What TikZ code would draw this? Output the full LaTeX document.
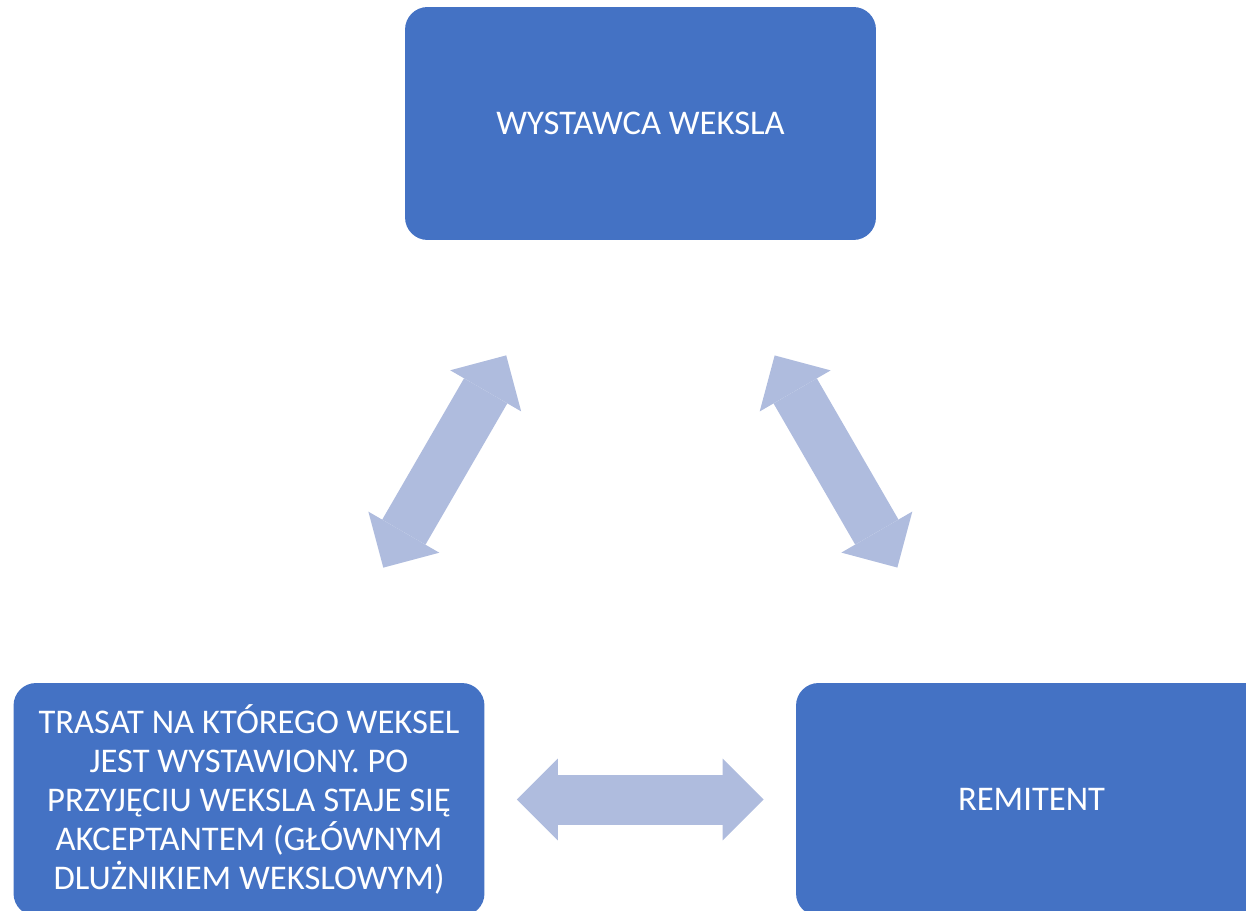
\documentclass[tikz,border=0pt]{standalone}
\usepackage{fontspec}
\setmainfont{Carlito}
\usetikzlibrary{arrows.meta,calc}
\definecolor{boxblue}{HTML}{4472C4}
\definecolor{arrowblue}{HTML}{AFBCDE}

\begin{document}
\begin{tikzpicture}[x=0.02cm,y=-0.02cm,
  box/.style={fill=boxblue,rounded corners=0.45cm,minimum width=9.42cm,minimum height=4.66cm,
    text=white,align=center,inner sep=0pt,font=\fontsize{19.7}{22.2}\selectfont},
  dblarrow/.style={draw=arrowblue,line width=1cm,
    {Triangle[length=0.82cm,width=1.64cm,line width=0pt]}-{Triangle[length=0.82cm,width=1.64cm,line width=0pt]},
    shorten <=5.36cm,shorten >=5.36cm}]
\useasboundingbox (0,0) rectangle (1246,911);
\clip (0,0) rectangle (1246,911);
\node[box] (wystawca) at (640.5,123.5) {WYSTAWCA WEKSLA};
\node[box] (trasat) at (249,799.5) {TRASAT NA KTÓREGO WEKSEL\\JEST WYSTAWIONY. PO\\PRZYJĘCIU WEKSLA STAJE SIĘ\\AKCEPTANTEM (GŁÓWNYM\\DLUŻNIKIEM WEKSLOWYM)};
\node[box] (remitent) at (1031.5,799.5) {REMITENT};
\draw[dblarrow] (wystawca.center) -- (trasat.center);
\draw[dblarrow] (wystawca.center) -- (remitent.center);
\draw[dblarrow] (trasat.center) -- (remitent.center);
\end{tikzpicture}
\end{document}
